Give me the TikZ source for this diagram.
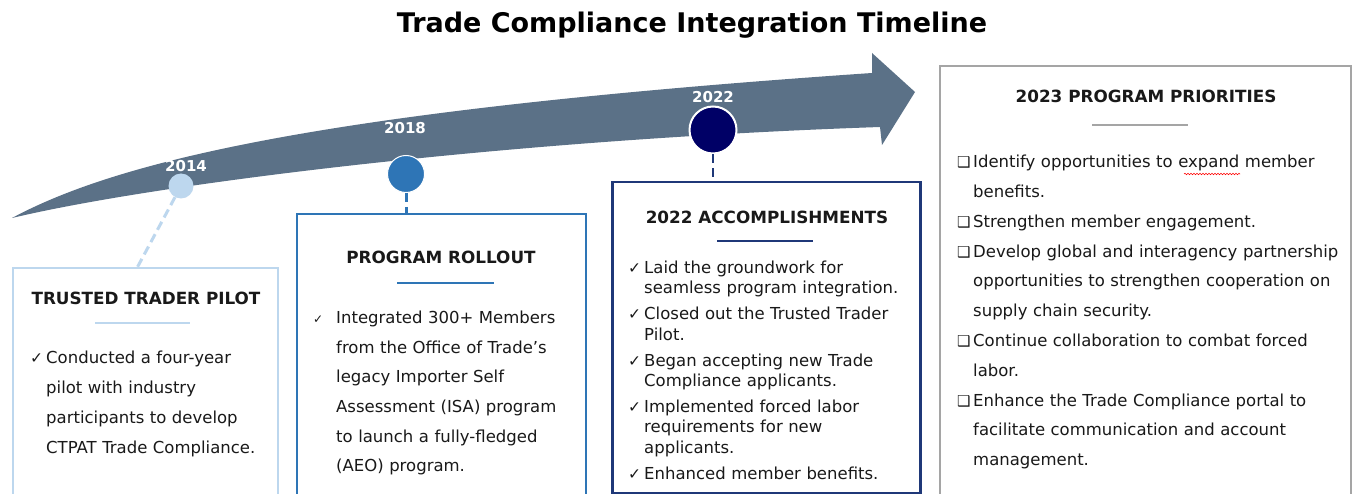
\documentclass[tikz,border=0pt]{standalone}
\usepackage{fontspec}
\setmainfont{DejaVu Sans}
\usepackage{xcolor}
\usetikzlibrary{
    calc,
    positioning,
    decorations.pathmorphing
}
\definecolor{arrowgray}{RGB}{91,113,135}
\definecolor{paleblue}{RGB}{189,215,238}
\definecolor{midblue}{RGB}{46,117,182}
\definecolor{navyblue}{RGB}{31,56,120}
\definecolor{darknavy}{RGB}{0,0,102}
\definecolor{boxgray}{RGB}{165,165,165}
\definecolor{textblack}{RGB}{25,25,25}

% one list entry: symbol, hanging indent, text
\newcommand{\bulletrow}[3]{\noindent\hangindent=#2\hangafter=1\rule{0pt}{14pt}\makebox[#2][l]{#1}#3\par}
\newcommand{\chk}[1]{\bulletrow{\fontsize{15.5}{15}\selectfont ✓}{16pt}{#1}}
\newcommand{\chkwide}[1]{\bulletrow{\fontsize{12}{12}\selectfont ✓}{23pt}{#1}}
\newcommand{\sqb}[1]{\bulletrow{\fontsize{15}{15}\selectfont\bfseries ❑}{16pt}{#1}}
\newcommand{\gap}{\vspace{5.7pt}}

\begin{document}
\begin{tikzpicture}[x=1pt, y=-1pt,
    boxframe/.style={draw, line width=2pt, inner sep=0pt, anchor=north west},
    boxtitle/.style={font=\fontsize{16.8}{19}\selectfont\bfseries, text=textblack, anchor=base, inner sep=0pt},
    boxbody/.style={text=textblack, anchor=north west, inner sep=0pt, align=left},
    yearlabel/.style={font=\fontsize{15}{17}\selectfont\bfseries, text=white, anchor=base, inner sep=0pt},
    yeardot/.style={circle, inner sep=0pt},
    link/.style={line width=3pt, dash pattern=on 9pt off 5pt}
]
\useasboundingbox (0,0) rectangle (1354,494);
\clip (0,0) rectangle (1354,494);
\fill[white] (0,0) rectangle (1354,494);

% heading
\node[font=\fontsize{27}{31}\selectfont\bfseries, anchor=base, inner sep=0pt] (heading) at (692,33) {Trade Compliance Integration Timeline};

% timeline arrow
\fill[arrowgray] (12,218) .. controls (120,160) and (330,110) .. (872,73)
    -- (872,53) -- (915,92) -- (882,145) -- (880,127)
    .. controls (500,140) and (150,185) .. (12,218) -- cycle;

% milestones
\node[yeardot, fill=paleblue, minimum size=25pt] (y2014) at (181,186) {};
\node[yeardot, fill=midblue, draw=white, line width=1pt, minimum size=37pt] (y2018) at (406,174) {};
\node[yeardot, fill=darknavy, draw=white, line width=2pt, minimum size=47pt] (y2022) at (713,130) {};
\node[yearlabel] (l2014) at (186,171.5) {2014};
\node[yearlabel] (l2018) at (405,133.5) {2018};
\node[yearlabel] (l2022) at (713,102.5) {2022};

% boxes
\node[boxframe, draw=paleblue, minimum width=265pt, minimum height=260pt] (pilot) at (12,267) {};
\node[boxframe, draw=midblue, minimum width=289pt, minimum height=300pt] (rollout) at (296,213) {};
\node[boxframe, draw=navyblue, line width=2.5pt, minimum width=308pt, minimum height=311pt] (accomp) at (611,181) {};
\node[boxframe, draw=boxgray, minimum width=411pt, minimum height=460pt] (priority) at (939,65) {};

% links
\draw[link, paleblue] (y2014) -- ([xshift=-8pt]pilot.north);
\draw[link, midblue] (y2018) -- (y2018 |- rollout.north);
\draw[link, navyblue, line width=2.5pt] (y2022) -- (y2022 |- accomp.north);

% trusted trader pilot
\node[boxtitle] (pilottitle) at (146,304) {TRUSTED TRADER PILOT};
\draw[paleblue, line width=2.5pt] (95,323) -- (190,323);
\node[boxbody, text width=250pt, font=\fontsize{16.5}{30}\selectfont] (pilotbody) at (30,349.5)
    {\chk{Conducted a four-year\newline pilot with industry\newline participants to develop\newline CTPAT Trade Compliance.}};

% program rollout
\node[boxtitle] (rollouttitle) at (441,264) {PROGRAM ROLLOUT};
\draw[midblue, line width=2.5pt] (397,283) -- (494,283);
\node[boxbody, text width=270pt, font=\fontsize{16.5}{29.6}\selectfont] (rolloutbody) at (313,309.5)
    {\chkwide{Integrated 300+ Members\newline from the Office of Trade’s\newline legacy Importer Self\newline
     Assessment (ISA) program\newline to launch a fully-fledged\newline (AEO) program.}};

% accomplishments
\node[boxtitle] (accomptitle) at (767,224) {2022 ACCOMPLISHMENTS};
\draw[navyblue, line width=2.5pt] (717,241) -- (813,241);
\node[boxbody, text width=290pt, font=\fontsize{16.5}{20.3}\selectfont] (accompbody) at (628,259.5)
    {\chk{Laid the groundwork for\newline seamless program integration.}\gap
     \chk{Closed out the Trusted Trader\newline Pilot.}\gap
     \chk{Began accepting new Trade\newline Compliance applicants.}\gap
     \chk{Implemented forced labor\newline requirements for new\newline applicants.}\gap
     \chk{Enhanced member benefits.}};

% priorities
\node[boxtitle] (prioritytitle) at (1146,103) {2023 PROGRAM PRIORITIES};
\draw[boxgray, line width=2.5pt] (1092,125) -- (1188,125);
\node[boxbody, text width=395pt, font=\fontsize{16.5}{29.8}\selectfont] (prioritybody) at (957,153.5)
    {\sqb{Identify opportunities to expand member\newline benefits.}
     \sqb{Strengthen member engagement.}
     \sqb{Develop global and interagency partnership\newline opportunities to strengthen cooperation on\newline supply chain security.}
     \sqb{Continue collaboration to combat forced\newline labor.}
     \sqb{Enhance the Trade Compliance portal to\newline facilitate communication and account\newline management.}};
\draw[red, line width=0.6pt, decorate, decoration={snake, amplitude=0.7pt, segment length=3pt}] (1184,174) -- (1240,174);
\end{tikzpicture}
\end{document}
